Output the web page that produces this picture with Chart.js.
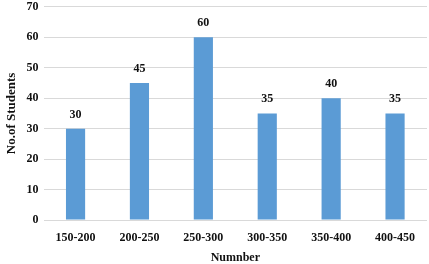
<!DOCTYPE html>
<html>
<head>
<meta charset="utf-8">
<script src="https://cdn.jsdelivr.net/npm/chart.js@4"></script>
<style>
  html, body { margin: 0; padding: 0; background: #fff; }
  #wrap { width: 429px; height: 264px; }
</style>
</head>
<body>
<div id="wrap"><canvas id="studentsChart"></canvas></div>
<script>
// chart data
const ranges = ['150-200', '200-250', '250-300', '300-350', '350-400', '400-450'];
const students = [30, 45, 60, 35, 40, 35];
const yMax = 70;
const yStep = 10;

const serif = "'Liberation Serif', 'Times New Roman', serif";

// draws the value above each bar
const valueLabels = {
    id: 'valueLabels',
    afterDatasetsDraw(chart) {
        const ctx = chart.ctx;
        const meta = chart.getDatasetMeta(0);
        ctx.save();
        ctx.font = "bold 12px " + serif;
        ctx.fillStyle = '#111';
        ctx.textAlign = 'center';
        ctx.textBaseline = 'bottom';
        meta.data.forEach((bar, i) => {
            ctx.fillText(students[i], bar.x, bar.y - 8);
        });
        ctx.restore();
    }
};

const ctx = document.getElementById('studentsChart').getContext('2d');
new Chart(ctx, {
    type: 'bar',
    data: {
        labels: ranges,
        datasets: [{
            data: students,
            backgroundColor: '#5b9bd5',
            barPercentage: 0.5,
            categoryPercentage: 0.6,
        }]
    },
    options: {
        responsive: true,
        maintainAspectRatio: false,
        animation: false,
        layout: { padding: { top: 0, right: 2, left: 4, bottom: 0 } },
        plugins: {
            legend: { display: false },
            tooltip: { enabled: false }
        },
        scales: {
            x: {
                grid: { display: false },
                border: { display: false },
                ticks: { color: '#111', font: { family: serif, size: 12, weight: 'bold', lineHeight: 1.0 }, padding: 4 },
                title: { display: true, text: 'Numnber', color: '#111', font: { family: serif, size: 12, weight: 'bold', lineHeight: 1.0 }, padding: { top: 4, bottom: 0 } }
            },
            y: {
                min: 0,
                max: yMax,
                ticks: { stepSize: yStep, color: '#111', font: { family: serif, size: 12, weight: 'bold', lineHeight: 0.3 }, padding: 5 },
                grid: { color: '#d9d9d9', drawTicks: false },
                border: { display: false },
                title: { display: true, text: 'No.of Students', color: '#111', font: { family: serif, size: 13, weight: 'bold' }, padding: { top: 0, bottom: 2 } }
            }
        }
    },
    plugins: [valueLabels]
});
</script>
</body>
</html>
